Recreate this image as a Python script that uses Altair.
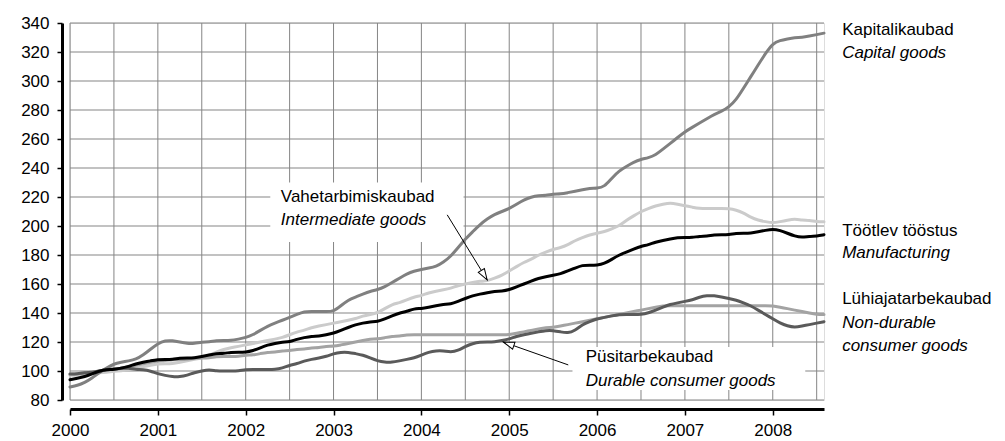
import math
import altair as alt
import pandas as pd

# ---------------- data (monthly, Jan 2000 .. Aug 2008) ----------------
START_YEAR = 2000
N_MONTHS = 104

capital = [
    89, 90, 92, 95, 99, 102, 105, 106, 107, 108, 111, 115,
    119, 121, 121, 120, 119, 119, 120, 120, 121, 121, 121, 122,
    123, 125, 128, 131, 133, 135, 137, 139, 141, 141, 141, 141,
    141, 145, 149, 151, 153, 155, 156, 158, 161, 164, 167, 169,
    170, 171, 172, 175, 179, 185, 191, 196, 201, 205, 208, 210,
    212, 215, 218, 220, 221, 221, 222, 222, 223, 224, 225, 226,
    226, 227, 233, 238, 241, 244, 246, 247, 249, 253, 257, 261,
    265, 268, 271, 274, 277, 279, 282, 287, 295, 303, 311, 319,
    326, 328, 329, 330, 330, 331, 332, 333,
]
intermediate = [
    97, 97, 98, 98, 99, 99, 100, 100, 101, 102, 103, 104,
    105, 105, 105, 106, 107, 108, 109, 111, 113, 115, 116, 117,
    118, 119, 120, 121, 122, 123, 125, 127, 128, 130, 131, 132,
    133, 134, 135, 136, 138, 139, 140, 143, 146, 147, 149, 151,
    152, 154, 155, 156, 157, 159, 160, 161, 162, 162, 164, 166,
    169, 172, 175, 177, 180, 182, 184, 185, 187, 190, 192, 194,
    195, 196, 198, 200, 204, 207, 210, 212, 214, 215, 216, 215,
    214, 213, 212, 212, 212, 212, 212, 211, 209, 206, 204, 203,
    202, 203, 204, 205, 204, 204, 203, 203,
]
manufacturing = [
    94, 95, 96, 98, 100, 101, 101, 102, 103, 105, 106, 107,
    108, 108, 108, 109, 109, 109, 110, 111, 112, 112, 113, 113,
    113, 114, 116, 118, 119, 120, 120, 122, 123, 124, 124, 125,
    126, 128, 130, 132, 133, 134, 134, 136, 138, 140, 141, 143,
    143, 144, 145, 146, 146, 148, 150, 152, 153, 154, 155, 155,
    156, 158, 160, 162, 164, 165, 166, 167, 169, 171, 173, 173,
    173, 174, 177, 180, 182, 184, 186, 187, 189, 190, 191, 192,
    192, 192, 193, 193, 194, 194, 194, 195, 195, 195, 196, 197,
    198, 197, 195, 193, 192, 193, 193, 194,
]
non_durable = [
    98, 98, 99, 99, 100, 101, 101, 102, 103, 104, 105, 106,
    107, 107, 108, 108, 108, 109, 109, 109, 110, 110, 110, 110,
    111, 111, 112, 113, 113, 114, 114, 115, 115, 116, 116, 117,
    117, 118, 119, 120, 121, 122, 122, 123, 124, 124, 125, 125,
    125, 125, 125, 125, 125, 125, 125, 125, 125, 125, 125, 125,
    125, 126, 127, 128, 129, 130, 130, 131, 132, 133, 134, 135,
    136, 137, 138, 139, 140, 141, 142, 143, 144, 145, 145, 145,
    145, 145, 145, 145, 145, 145, 145, 145, 145, 145, 145, 145,
    145, 144, 143, 142, 141, 140, 139, 139,
]
durable = [
    98, 98, 99, 99, 100, 101, 101, 102, 102, 101, 101, 100,
    98, 97, 96, 96, 97, 99, 100, 101, 100, 100, 100, 100,
    101, 101, 101, 101, 101, 102, 104, 105, 107, 108, 109, 110,
    112, 113, 113, 112, 111, 109, 107, 106, 106, 107, 108, 109,
    111, 113, 114, 114, 113, 114, 117, 119, 120, 120, 120, 121,
    122, 124, 125, 126, 127, 128, 128, 127, 126, 128, 132, 134,
    136, 137, 138, 139, 139, 139, 139, 140, 142, 144, 146, 147,
    148, 149, 151, 152, 152, 151, 150, 149, 147, 145, 142, 139,
    136, 133, 131, 130, 131, 132, 133, 134,
]

series_names = ["Vahetarbimiskaubad", "Lühiajatarbekaubad", "Kapitalikaubad",
                "Püsitarbekaubad", "Töötlev tööstus"]
series_values = [intermediate, non_durable, capital, durable, manufacturing]
series_colors = ["#cbcbcb", "#a3a3a3", "#808080", "#5a5a5a", "#000000"]

y_ticks = list(range(80, 341, 20))
x_ticks = [2000 + h / 2 for h in range(0, 18)]

# annotation texts (x in years, y in index units)
label_text = ["Vahetarbimiskaubad", "Püsitarbekaubad",
              "Kapitalikaubad", "Töötlev tööstus", "Lühiajatarbekaubad"]
label_x = [2002.40, 2005.87, 2008.79, 2008.79, 2008.79]
label_y = [220.1, 109.7, 335.3, 196.6, 149.7]

italic_text = ["Intermediate goods", "Durable consumer goods",
               "Capital goods", "Manufacturing", "Non-durable", "consumer goods"]
italic_x = [2002.40, 2005.87, 2008.79, 2008.79, 2008.79, 2008.79]
italic_y = [204.2, 93.1, 319.5, 181.4, 133.1, 117.3]

# white label boxes
box_x = [2002.28, 2005.72]
box_x2 = [2004.48, 2008.37]
box_y = [189.0, 86.9]
box_y2 = [230.0, 116.6]

# arrows: start -> tip
arrow_x = [2004.294, 2005.672]
arrow_y = [207.7, 104.2]
arrow_x2 = [2004.749, 2004.932]
arrow_y2 = [162.8, 120.0]

# ---------------- chart ----------------
W, H = 754, 377
X_DOMAIN = [2000, 2000 + (N_MONTHS - 1) / 12]
Y_DOMAIN = [80, 340]
FONT = "Liberation Sans"
FS = 17
GRID = "#858585"

rows = []
for name, vals in zip(series_names, series_values):
    for i, v in enumerate(vals):
        rows.append({"t": START_YEAR + i / 12, "v": v, "series": name})
df = pd.DataFrame(rows)

xscale = alt.Scale(domain=X_DOMAIN, nice=False, zero=False)
yscale = alt.Scale(domain=Y_DOMAIN, nice=False, zero=False)

xaxis = alt.Axis(values=x_ticks, grid=False,
                 domainColor="black", domainWidth=3, tickColor="black",
                 tickSize=6, tickWidth=1.5, offset=9, title=None,
                 format="d", labelExpr="datum.value % 1 === 0 ? datum.label : ''",
                 labelFont=FONT, labelFontSize=FS, labelColor="black",
                 labelPadding=7, labelFlush=False, labelOverlap=False)
yaxis = alt.Axis(values=y_ticks, grid=False,
                 domainColor="black", domainWidth=3, tickColor="black",
                 tickSize=5, tickWidth=1.5, offset=8, title=None,
                 labelFont=FONT, labelFontSize=FS, labelColor="black",
                 labelPadding=8, labelOverlap=False)

X = lambda f: alt.X(f, type="quantitative", scale=xscale, axis=xaxis)
Y = lambda f: alt.Y(f, type="quantitative", scale=yscale, axis=yaxis)

# gridlines
vgrid = alt.Chart(pd.DataFrame({"x": x_ticks})).mark_rule(
    color=GRID, strokeWidth=1).encode(x=X("x"), y=alt.value(0), y2=alt.value(H))
hgrid = alt.Chart(pd.DataFrame({"y": y_ticks})).mark_rule(
    color=GRID, strokeWidth=1).encode(y=Y("y"), x=alt.value(0), x2=alt.value(W))

boxes = pd.DataFrame({"x": box_x, "x2": box_x2, "y": box_y, "y2": box_y2})
box_layer = alt.Chart(boxes).mark_rect(fill="white").encode(
    x=X("x"), x2="x2", y=Y("y"), y2="y2")

layers = [vgrid, hgrid, box_layer]
for name, col in zip(series_names, series_colors):
    layers.append(
        alt.Chart(df).transform_filter(alt.datum.series == name)
        .mark_line(color=col, strokeWidth=3, interpolate="basis",
                   strokeJoin="round", strokeCap="round")
        .encode(x=X("t"), y=Y("v"))
    )

arrows = pd.DataFrame({"x": arrow_x, "y": arrow_y, "x2": arrow_x2, "y2": arrow_y2})
layers.append(alt.Chart(arrows).mark_rule(color="black", strokeWidth=1).encode(
    x=X("x"), y=Y("y"), x2="x2", y2="y2"))

px_per_x = W / (X_DOMAIN[1] - X_DOMAIN[0])
px_per_y = H / (Y_DOMAIN[1] - Y_DOMAIN[0])
head_path = "M0,0L-0.32,1L0.32,1Z"
for x1, y1, x2, y2 in zip(arrow_x, arrow_y, arrow_x2, arrow_y2):
    dx = (x2 - x1) * px_per_x
    dy = -(y2 - y1) * px_per_y
    ang = math.degrees(math.atan2(dx, -dy)) % 360
    layers.append(
        alt.Chart(pd.DataFrame({"x": [x2], "y": [y2]}))
        .mark_point(shape=head_path, size=500, angle=ang, filled=True,
                    fill="white", stroke="black", strokeWidth=1, opacity=1)
        .encode(x=X("x"), y=Y("y"))
    )

lab = pd.DataFrame({"x": label_x, "y": label_y, "text": label_text})
layers.append(alt.Chart(lab).mark_text(align="left", baseline="middle", font=FONT,
                                        fontSize=FS, color="black")
              .encode(x=X("x"), y=Y("y"), text="text:N"))
ital = pd.DataFrame({"x": italic_x, "y": italic_y, "text": italic_text})
layers.append(alt.Chart(ital).mark_text(align="left", baseline="middle", font=FONT,
                                         fontSize=FS, fontStyle="italic", color="black")
              .encode(x=X("x"), y=Y("y"), text="text:N"))

chart = alt.layer(*layers).properties(
    width=W, height=H,
    padding={"left": 62, "top": 15, "right": 171, "bottom": 40},
    autosize=alt.AutoSizeParams(type="none"),
).configure_view(stroke=None).configure(background="white")

chart.save("out.html", embed_options={"renderer": "svg", "actions": False})
